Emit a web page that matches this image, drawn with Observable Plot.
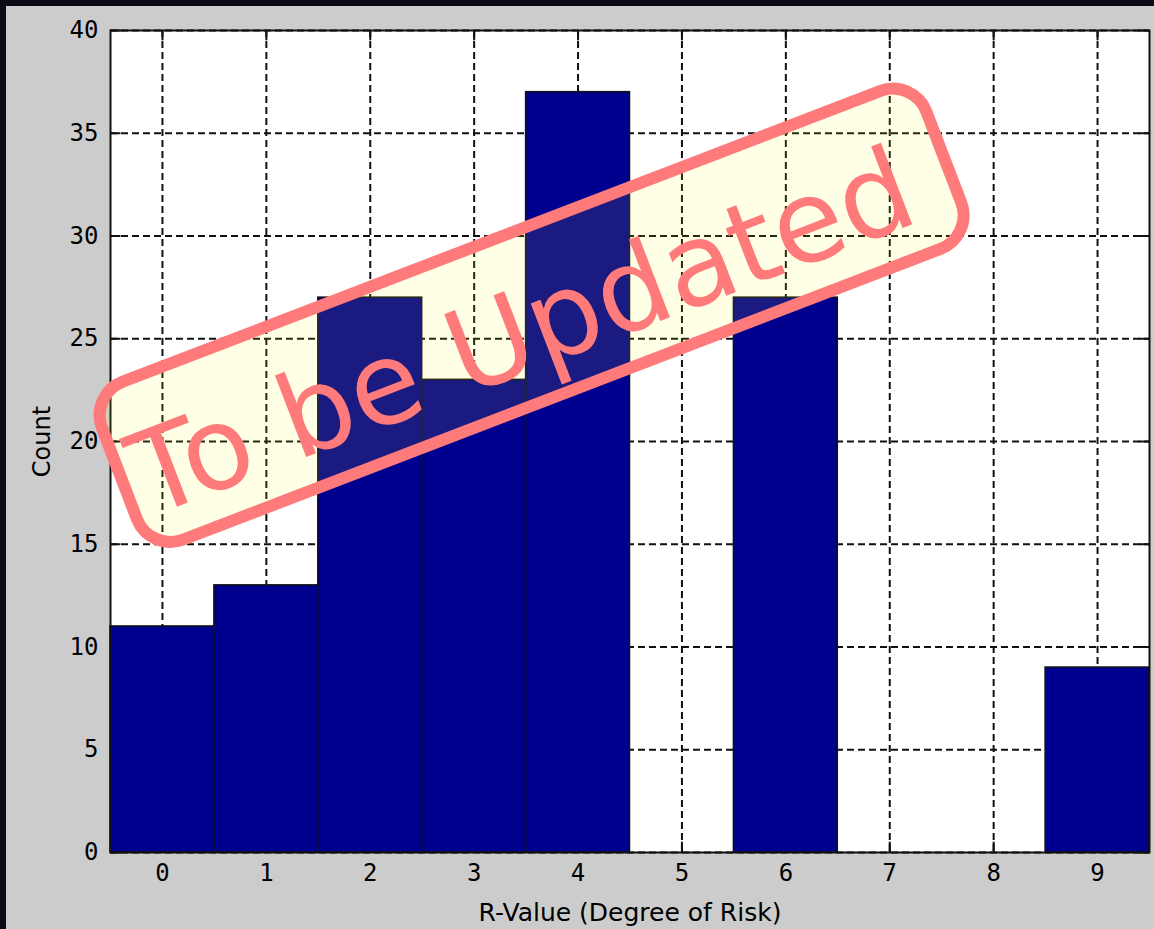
<!DOCTYPE html>
<html>
<head>
<meta charset="utf-8">
<script src="https://cdn.jsdelivr.net/npm/d3@7"></script>
<script src="https://cdn.jsdelivr.net/npm/@observablehq/plot@0.6"></script>
<style>
  html, body { margin: 0; padding: 0; }
  body { width: 1154px; height: 929px; overflow: hidden; position: relative; background: #0a0a14; }
  #panel { position: absolute; left: 6px; top: 6px; width: 1148px; height: 923px; background: #cccccc; }
  #chart { position: absolute; left: 0; top: 0; }
</style>
</head>
<body>
<div id="panel"></div>
<div id="chart"></div>
<script>
// Histogram of R-values (degree of risk)
const rValues = [0, 1, 2, 3, 4, 5, 6, 7, 8, 9];
const counts = [11, 13, 27, 23, 37, 0, 27, 0, 0, 9];
const xTicks = [0, 1, 2, 3, 4, 5, 6, 7, 8, 9];
const yTicks = [0, 5, 10, 15, 20, 25, 30, 35, 40];
const xLabel = "R-Value (Degree of Risk)";
const yLabel = "Count";
const stampText = "To be Updated";

const bins = rValues.map((r, i) => ({r, count: counts[i]}));

const ink = "#111";
const gridStyle = {stroke: ink, strokeOpacity: 1, strokeWidth: 2, strokeDasharray: "7,4"};
const tickStyle = {stroke: ink, strokeWidth: 2};

const chart = Plot.plot({
  width: 1154,
  height: 929,
  marginLeft: 110,
  marginRight: 5,
  marginTop: 30,
  marginBottom: 77,
  style: {background: "transparent", fontFamily: "DejaVu Sans Mono", fontSize: "24px", color: "black"},
  x: {domain: [-0.5, 9.5]},
  y: {domain: [0, 40]},
  marks: [
    Plot.frame({fill: "white"}),
    Plot.gridX(xTicks, gridStyle),
    Plot.gridY(yTicks, gridStyle),
    // inward tick marks on all four sides
    Plot.ruleY(yTicks, {x1: -0.5, x2: -0.4, ...tickStyle}),
    Plot.ruleY(yTicks, {x1: 9.5, x2: 9.4, ...tickStyle}),
    Plot.ruleX(xTicks, {y1: 0, y2: 0.5, ...tickStyle}),
    Plot.ruleX(xTicks, {y1: 40, y2: 39.5, ...tickStyle}),
    Plot.rect(bins, {
      x1: d => d.r - 0.5,
      x2: d => d.r + 0.5,
      y1: d => 0,
      y2: "count",
      fill: "#00008f",
      stroke: ink,
      strokeWidth: 1.5
    }),
    Plot.frame({stroke: ink, strokeWidth: 2}),
    Plot.axisX(xTicks, {tickSize: 0, tickPadding: 11, label: null, fontSize: 24}),
    Plot.axisY(yTicks, {tickSize: 0, tickPadding: 12, label: null, fontSize: 24}),
    Plot.text([xLabel], {
      text: d => d, frameAnchor: "bottom", dy: 60,
      textAnchor: "middle", lineAnchor: "middle",
      fontFamily: "DejaVu Sans", fontSize: 25, fill: "black"
    }),
    Plot.text([yLabel], {
      text: d => d, frameAnchor: "left", dx: -68, rotate: -90,
      textAnchor: "middle", lineAnchor: "middle",
      fontFamily: "DejaVu Sans", fontSize: 24, fill: "black"
    })
  ]
});

document.getElementById("chart").append(chart);

// "To be Updated" stamp laid over the chart
const stamp = d3.select(chart).append("g")
  .attr("transform", "translate(531,315) rotate(-21)");
stamp.append("rect")
  .attr("x", -441).attr("y", -84)
  .attr("width", 883).attr("height", 169)
  .attr("rx", 36)
  .attr("fill", "rgba(255,255,0,0.1)")
  .attr("stroke", "#ff7b7b")
  .attr("stroke-width", 12);
stamp.append("text")
  .attr("x", -15).attr("y", 52)
  .attr("text-anchor", "middle")
  .attr("font-family", "DejaVu Sans")
  .attr("font-size", 115)
  .attr("fill", "#ff7b7b")
  .text(stampText);
</script>
</body>
</html>
